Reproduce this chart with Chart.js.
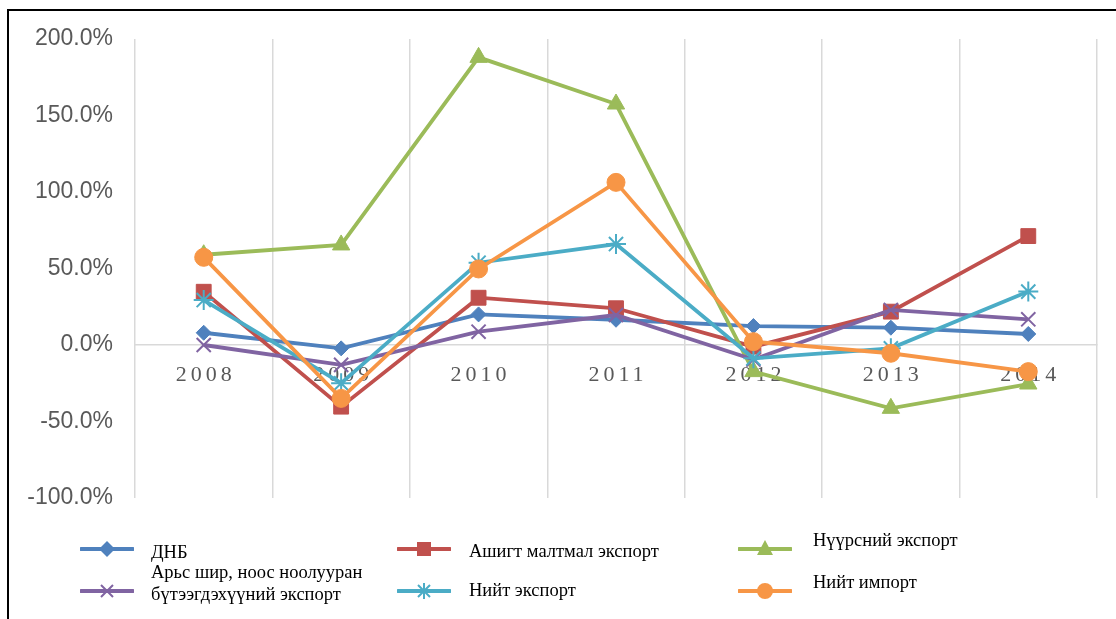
<!DOCTYPE html>
<html>
<head>
<meta charset="utf-8">
<script src="https://cdn.jsdelivr.net/npm/chart.js@4.4.1/dist/chart.umd.min.js"></script>
<style>
  body { margin: 0; background: #fff; }
  #wrap { position: relative; width: 1116px; height: 619px; overflow: hidden; }
  #c { position: absolute; left: 0; top: 0; }
  #frame { position: absolute; left: 7px; top: 9px; width: 1120px; height: 640px;
           border-top: 2px solid #000; border-left: 2px solid #000; }
  .lg { position: absolute; font-family: "Liberation Serif", "Times New Roman", serif;
        font-size: 18.5px; line-height: 20px; color: #000; white-space: nowrap; }
  .mk { position: absolute; }
</style>
</head>
<body>
<div id="wrap">
  <canvas id="c" width="1116" height="619"></canvas>
  <div id="frame"></div>
  <div id="legend"></div>
</div>
<script>
// years and growth rates, %
const years = ['2008', '2009', '2010', '2011', '2012', '2013', '2014']
const names = ['ДНБ', 'Ашигт малтмал экспорт', 'Нүүрсний экспорт',
               'Арьс шир, ноос ноолууран бүтээгдэхүүний экспорт', 'Нийт экспорт', 'Нийт импорт']
const dnb     = [8.0, -2.2, 20.0, 16.5, 12.4, 11.3, 7.2]
const ashigt  = [34.8, -40.3, 30.9, 24.0, -1.1, 21.8, 71.2]
const nuurs   = [59.0, 65.4, 188.0, 157.5, -17.4, -41.4, -25.5]
const aris    = [0.0, -13.0, 8.7, 19.6, -9.5, 22.9, 16.8]
const niitExp = [29.4, -25.0, 53.8, 66.0, -8.7, -2.2, 34.9]
const niitImp = [57.3, -34.9, 49.7, 106.3, 2.2, -5.4, -17.4]
const yTicks  = [-100, -50, 0, 50, 100, 150, 200]

const cores  = ['#4f81bd', '#c0504d', '#9bbb59', '#8064a2', '#4bacc6', '#f79646']
const formas = ['rectRot', 'rect', 'triangle', 'crossRot', 'star', 'circle']
const raios  = [7.5, 10.5, 10, 10, 10, 9]
const series = [dnb, ashigt, nuurs, aris, niitExp, niitImp]

const conjunto = series.map((d, i) => ({
  label: names[i],
  data: d,
  borderColor: cores[i],
  backgroundColor: cores[i],
  borderWidth: 3.8,
  pointStyle: formas[i],
  pointRadius: raios[i],
  pointBorderWidth: (formas[i] == 'crossRot' || formas[i] == 'star') ? 2 : 1,
  pointBackgroundColor: cores[i],
  pointBorderColor: cores[i],
  tension: 0,
  order: series.length - i   // later series on top, like the original
}))

// spaced-out year labels
const espaco = {
  id: 'espaco',
  beforeDraw(chart) {
    const s = chart.scales.x
    if (s._espaco) return
    const orig = s.drawLabels
    s.drawLabels = function (area) {
      const ctx = this.ctx
      ctx.save()
      ctx.letterSpacing = '4px'
      ctx.translate(2, 0)
      orig.call(this, area)
      ctx.restore()
    }
    s._espaco = true
  }
}

new Chart(document.getElementById('c'), {
  type: 'line',
  data: { labels: years, datasets: conjunto },
  options: {
    responsive: false,
    animation: false,
    layout: { padding: { left: 0, right: 19, top: 39, bottom: 121 } },
    plugins: { legend: { display: false }, tooltip: { enabled: false } },
    scales: {
      x: {
        position: { y: 0 },
        offset: true,
        grid: { offset: true, color: '#d9d9d9', lineWidth: 1.5, drawTicks: false },
        border: { color: '#d9d9d9', width: 1.5 },
        ticks: { color: '#595959', padding: 17, maxRotation: 0,
                 font: { family: '"Liberation Serif", "Times New Roman", serif', size: 22 } }
      },
      y: {
        min: -100, max: 200,
        afterFit(scale) { scale.width = 135 },
        afterBuildTicks(scale) { scale.ticks = yTicks.map(v => ({ value: v })) },
        grid: { display: false, drawTicks: false },
        border: { display: false },
        ticks: { color: '#595959', padding: 22,
                 font: { family: '"Liberation Sans", Arial, sans-serif', size: 23 },
                 callback: v => v.toFixed(1) + '%' }
      }
    }
  },
  plugins: [espaco]
})

// legend: three columns, two rows
const svgMarca = (cor, forma) => {
  let m = ''
  if (forma == 'rectRot') m = `<polygon points="27,3 35,11 27,19 19,11" fill="${cor}"/>`
  if (forma == 'rect') m = `<rect x="20" y="4" width="14" height="14" fill="${cor}"/>`
  if (forma == 'triangle') m = `<polygon points="27,2 35,17 19,17" fill="${cor}"/>`
  if (forma == 'crossRot') m = `<path d="M21,5 L33,17 M33,5 L21,17" stroke="${cor}" stroke-width="2"/>`
  if (forma == 'star') m = `<path d="M21,5 L33,17 M33,5 L21,17 M27,3 L27,19" stroke="${cor}" stroke-width="2"/>`
  if (forma == 'circle') m = `<circle cx="27" cy="11" r="8" fill="${cor}"/>`
  return `<svg width="54" height="22"><line x1="1" y1="11" x2="53" y2="11" stroke="${cor}" stroke-width="4" stroke-linecap="round"/>${m}</svg>`
}
const lgX = [[80, 151], [397, 469], [738, 813]]
const lgLinhaY = [549, 591]
const lgTexto = [[542, 0], [541, 1], [530, 2], [561, 0], [580, 1], [572, 2]]
let html = ''
names.forEach((n, i) => {
  const col = i % 3, row = Math.floor(i / 3)
  html += `<div class="mk" style="left:${lgX[col][0]}px;top:${lgLinhaY[row] - 11}px">${svgMarca(cores[i], formas[i])}</div>`
  const txt = i == 3 ? 'Арьс шир, ноос ноолууран<br>бүтээгдэхүүний экспорт' : n
  const lh = i == 3 ? 'line-height:22px;' : ''
  html += `<div class="lg" style="left:${lgX[col][1]}px;top:${lgTexto[i][0]}px;${lh}">${txt}</div>`
})
document.getElementById('legend').innerHTML = html
</script>
</body>
</html>
